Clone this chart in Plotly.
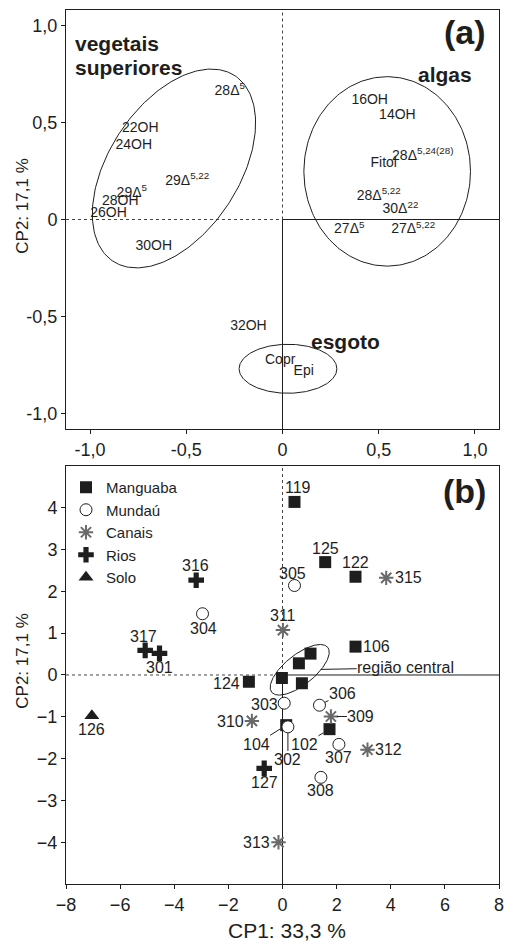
import numpy as np
import plotly.graph_objects as go

# ---------------- data: panel (a) loadings ----------------
load_labels = ["28Δ<sup>5</sup>", "22OH", "24OH", "29Δ<sup>5,22</sup>", "29Δ<sup>5</sup>",
               "28OH", "26OH", "30OH", "32OH", "Copr", "Epi", "16OH", "14OH", "Fitol",
               "28Δ<sup>5,24(28)</sup>", "28Δ<sup>5,22</sup>", "30Δ<sup>22</sup>",
               "27Δ<sup>5</sup>", "27Δ<sup>5,22</sup>"]
load_cp1 = [-0.274, -0.739, -0.773, -0.495, -0.783, -0.843, -0.904, -0.669, -0.177,
            -0.012, 0.110, 0.453, 0.597, 0.526, 0.729, 0.500, 0.613, 0.347, 0.679]
load_cp2 = [0.662, 0.470, 0.380, 0.195, 0.135, 0.092, 0.032, -0.137, -0.553,
            -0.729, -0.785, 0.616, 0.534, 0.290, 0.324, 0.118, 0.049, -0.054, -0.054]

# ---------------- data: panel (b) scores ----------------
manguaba_ids = ["119", "125", "122", "106", "124", "", "", "", "", "104", "102"]
manguaba_cp1 = [0.443, 1.578, 2.698, 2.698, -1.242, 1.035, 0.606, -0.022, 0.717, 0.137, 1.737]
manguaba_cp2 = [4.14, 2.70, 2.35, 0.678, -0.162, 0.511, 0.279, -0.072, -0.198, -1.20, -1.296]

mundau_ids = ["305", "304", "303", "306", "302", "307", "308"]
mundau_cp1 = [0.443, -2.956, 0.063, 1.367, 0.200, 2.084, 1.419]
mundau_cp2 = [2.14, 1.465, -0.675, -0.723, -1.241, -1.661, -2.449]

canais_ids = ["315", "311", "310", "309", "312", "313"]
canais_cp1 = [3.832, 0.015, -1.131, 1.789, 3.141, -0.148]
canais_cp2 = [2.324, 1.074, -1.098, -0.993, -1.790, -4.00]

rios_ids = ["316", "317", "301", "127"]
rios_cp1 = [-3.189, -5.074, -4.545, -0.676]
rios_cp2 = [2.267, 0.589, 0.518, -2.234]

solo_ids = ["126"]
solo_cp1 = [-7.044]
solo_cp2 = [-0.978]

xa_ticks = [-1.0, -0.5, 0, 0.5, 1.0]
xa_ticktext = ["-1,0", "-0,5", "0", "0,5", "1,0"]
xb_ticks = [-8, -6, -4, -2, 0, 2, 4, 6, 8]
yb_ticks = [-4, -3, -2, -1, 0, 1, 2, 3, 4]

# ---------------- layout geometry / style ----------------
W, H = 505, 941
ML, MR, MT, MB = 66, 6, 10, 57
XA_RANGE = [-1.125, 1.125]
YA_RANGE = [-1.08, 1.08]
XB_RANGE = [-8, 8]
YB_RANGE = [-5, 5]
DOM_A = [0.5206, 1.0]
DOM_B = [0.0, 0.4783]
FONT = "Liberation Sans, Arial, sans-serif"
INK = "#1e1e1e"
GRAY = "#6a6a6a"
plot_w = W - ML - MR
plot_h = H - MT - MB
kx_a = plot_w / (XA_RANGE[1] - XA_RANGE[0])
ky_a = plot_h * (DOM_A[1] - DOM_A[0]) / (YA_RANGE[1] - YA_RANGE[0])
kx_b = plot_w / (XB_RANGE[1] - XB_RANGE[0])
ky_b = plot_h * (DOM_B[1] - DOM_B[0]) / (YB_RANGE[1] - YB_RANGE[0])


def px_to_paper_x(px):
    return (px - ML) / plot_w


def px_to_paper_y(py):
    return (H - MB - py) / plot_h


def ellipse(cx, cy, a_px, b_px, theta_deg, kx, ky, n=240):
    t = np.linspace(0, 2 * np.pi, n)
    th = np.radians(theta_deg)
    dx = a_px * np.cos(t) * np.cos(th) - b_px * np.sin(t) * np.sin(th)
    dy = a_px * np.cos(t) * np.sin(th) + b_px * np.sin(t) * np.cos(th)
    return cx + dx / kx, cy + dy / ky


fig = go.Figure()

# ellipses panel a
for (cx, cy, a, b, th) in [(-0.564, 0.263, 111, 65, 56.7),
                           (0.544, 0.248, 83.3, 94.7, 0),
                           (0.0285, -0.7695, 48.9, 24.5, 0)]:
    ex, ey = ellipse(cx, cy, a, b, th, kx_a, ky_a)
    fig.add_trace(go.Scatter(x=ex, y=ey, mode="lines", line=dict(color=INK, width=1),
                             showlegend=False, hoverinfo="skip", xaxis="x", yaxis="y"))

# loadings text
fig.add_trace(go.Scatter(x=load_cp1, y=load_cp2, text=load_labels, mode="text",
                         textfont=dict(family=FONT, size=14, color=INK),
                         textposition="middle center", showlegend=False,
                         xaxis="x", yaxis="y"))

# central ellipse panel b
ex, ey = ellipse(0.636, 0.124, 35.9, 15, 38.7, kx_b, ky_b)
fig.add_trace(go.Scatter(x=ex, y=ey, mode="lines", line=dict(color=INK, width=1),
                         showlegend=False, hoverinfo="skip", xaxis="x2", yaxis="y2"))

groups = [
    ("Manguaba", manguaba_ids, manguaba_cp1, manguaba_cp2,
     dict(symbol="square", size=12, color=INK)),
    ("Mundaú", mundau_ids, mundau_cp1, mundau_cp2,
     dict(symbol="circle", size=12, color="white", line=dict(color=INK, width=1))),
    ("Canais", canais_ids, canais_cp1, canais_cp2,
     dict(symbol="asterisk-open", size=12, color=GRAY, line=dict(color=GRAY, width=2))),
    ("Rios", rios_ids, rios_cp1, rios_cp2,
     dict(symbol="cross", size=13, color=INK)),
    ("Solo", solo_ids, solo_cp1, solo_cp2,
     dict(symbol="triangle-up", size=13, color=INK)),
]
for name, ids, xs, ys, mk in groups:
    fig.add_trace(go.Scatter(x=xs, y=ys, mode="markers", name=name, marker=mk,
                             text=ids, xaxis="x2", yaxis="y2"))

# label offsets (px): plain (dx, dy_up) or leader ("arrow", ax, ay, standoff)
label_pos = {
    "119": (4, 14), "125": (0, 14), "122": (0, 14), "106": (21, 0), "124": (-22, -2),
    "315": (22, 0), "305": (-2, 12), "311": (0, 15), "316": (-1, 15), "304": (1, -15),
    "317": (-2, 14), "301": (0, -14), "126": (0, -14), "303": (-20, -1),
    "310": (-21, -1), "307": (0, -13), "312": (21, 0), "308": (0, -13),
    "127": (0, -14), "313": (-22, 0),
    "306": ("arrow", 23, -12, 6), "309": ("arrow", 30, 0, 6),
    "104": ("arrow", -30, 19, 7), "302": ("arrow", 0, 33, 6),
    "102": ("arrow", -25, 15, 7),
}

annotations = []
for name, ids, xs, ys, mk in groups:
    for lab, x, y in zip(ids, xs, ys):
        if not lab:
            continue
        pos = label_pos[lab]
        base = dict(x=x, y=y, xref="x2", yref="y2", text=lab,
                    font=dict(family=FONT, size=16, color=INK))
        if pos[0] == "arrow":
            base.update(showarrow=True, arrowhead=0, arrowwidth=1, arrowcolor=INK,
                        ax=pos[1], ay=pos[2], standoff=pos[3], borderpad=0)
        else:
            base.update(showarrow=False, xshift=pos[0], yshift=pos[1])
        annotations.append(base)

annotations.append(dict(x=0.636, y=0.124, xref="x2", yref="y2", text="região central",
                        font=dict(family=FONT, size=16, color=INK), showarrow=True,
                        arrowhead=0, arrowwidth=1, arrowcolor=INK, ax=106, ay=-2,
                        standoff=21, borderpad=0))

# group labels panel a
for txt, x, y in [("vegetais", -1.09, 0.905), ("superiores", -1.09, 0.786)]:
    annotations.append(dict(x=x, y=y, xref="x", yref="y", text=f"<b>{txt}</b>",
                            xanchor="left", yanchor="middle", showarrow=False,
                            font=dict(family=FONT, size=21, color=INK)))
annotations.append(dict(x=0.845, y=0.745, xref="x", yref="y", text="<b>algas</b>",
                        showarrow=False, font=dict(family=FONT, size=21, color=INK)))
annotations.append(dict(x=0.327, y=-0.630, xref="x", yref="y", text="<b>esgoto</b>",
                        showarrow=False, font=dict(family=FONT, size=21, color=INK)))
annotations.append(dict(x=0.975, y=0.947, xref="x domain", yref="y domain",
                        text="<b>(a)</b>", xanchor="right", yanchor="middle",
                        showarrow=False, font=dict(family=FONT, size=34, color=INK)))
annotations.append(dict(x=0.975, y=0.94, xref="x2 domain", yref="y2 domain",
                        text="<b>(b)</b>", xanchor="right", yanchor="middle",
                        showarrow=False, font=dict(family=FONT, size=34, color=INK)))

# axis titles
for yc in (206, 661):
    annotations.append(dict(x=px_to_paper_x(21.7), y=px_to_paper_y(yc), xref="paper",
                            yref="paper", text="CP2: 17,1 %", textangle=-90,
                            xanchor="center", yanchor="middle", showarrow=False,
                            font=dict(family=FONT, size=17, color=INK)))
annotations.append(dict(x=px_to_paper_x(287), y=px_to_paper_y(930), xref="paper",
                        yref="paper", text="CP1: 33,3 %", xanchor="center",
                        yanchor="middle", showarrow=False,
                        font=dict(family=FONT, size=21, color=INK)))

# half-dotted / half-solid zero lines
shapes = []
for xr, yr, xrng, yrng in [("x", "y", XA_RANGE, YA_RANGE), ("x2", "y2", XB_RANGE, YB_RANGE)]:
    shapes += [
        dict(type="line", xref=xr, yref=yr, x0=xrng[0], x1=0, y0=0, y1=0,
             line=dict(color="#444", width=1, dash="dot"), layer="below"),
        dict(type="line", xref=xr, yref=yr, x0=0, x1=xrng[1], y0=0, y1=0,
             line=dict(color=INK, width=1), layer="below"),
        dict(type="line", xref=xr, yref=yr, x0=0, x1=0, y0=0, y1=yrng[1],
             line=dict(color="#444", width=1, dash="dot"), layer="below"),
        dict(type="line", xref=xr, yref=yr, x0=0, x1=0, y0=yrng[0], y1=0,
             line=dict(color=INK, width=1), layer="below"),
    ]

axis_common = dict(showline=True, mirror=True, linecolor=INK, linewidth=1,
                   ticks="outside", ticklen=4, tickcolor=INK, showgrid=False,
                   zeroline=False, automargin=False,
                   tickfont=dict(family=FONT, size=18, color=INK))

fig.update_layout(
    width=W, height=H, margin=dict(l=ML, r=MR, t=MT, b=MB),
    paper_bgcolor="white", plot_bgcolor="white",
    font=dict(family=FONT, color=INK),
    xaxis=dict(domain=[0, 1], range=XA_RANGE, anchor="y", tickvals=xa_ticks,
               ticktext=xa_ticktext, **axis_common),
    yaxis=dict(domain=DOM_A, range=YA_RANGE, anchor="x", tickvals=xa_ticks,
               ticktext=xa_ticktext, **axis_common),
    xaxis2=dict(domain=[0, 1], range=XB_RANGE, anchor="y2", tickvals=xb_ticks,
                **axis_common),
    yaxis2=dict(domain=DOM_B, range=YB_RANGE, anchor="x2", tickvals=yb_ticks,
                **axis_common),
    legend=dict(x=0.0, y=px_to_paper_y(471), xanchor="left", yanchor="top",
                xref="paper", yref="paper", bgcolor="rgba(0,0,0,0)", tracegroupgap=0,
                font=dict(family=FONT, size=15, color=INK), itemwidth=30),
    annotations=annotations, shapes=shapes,
)

fig.write_html("out.html", config={"displayModeBar": False},
               post_script="document.body.style.margin='0';"
                           "document.body.style.overflow='hidden';")
